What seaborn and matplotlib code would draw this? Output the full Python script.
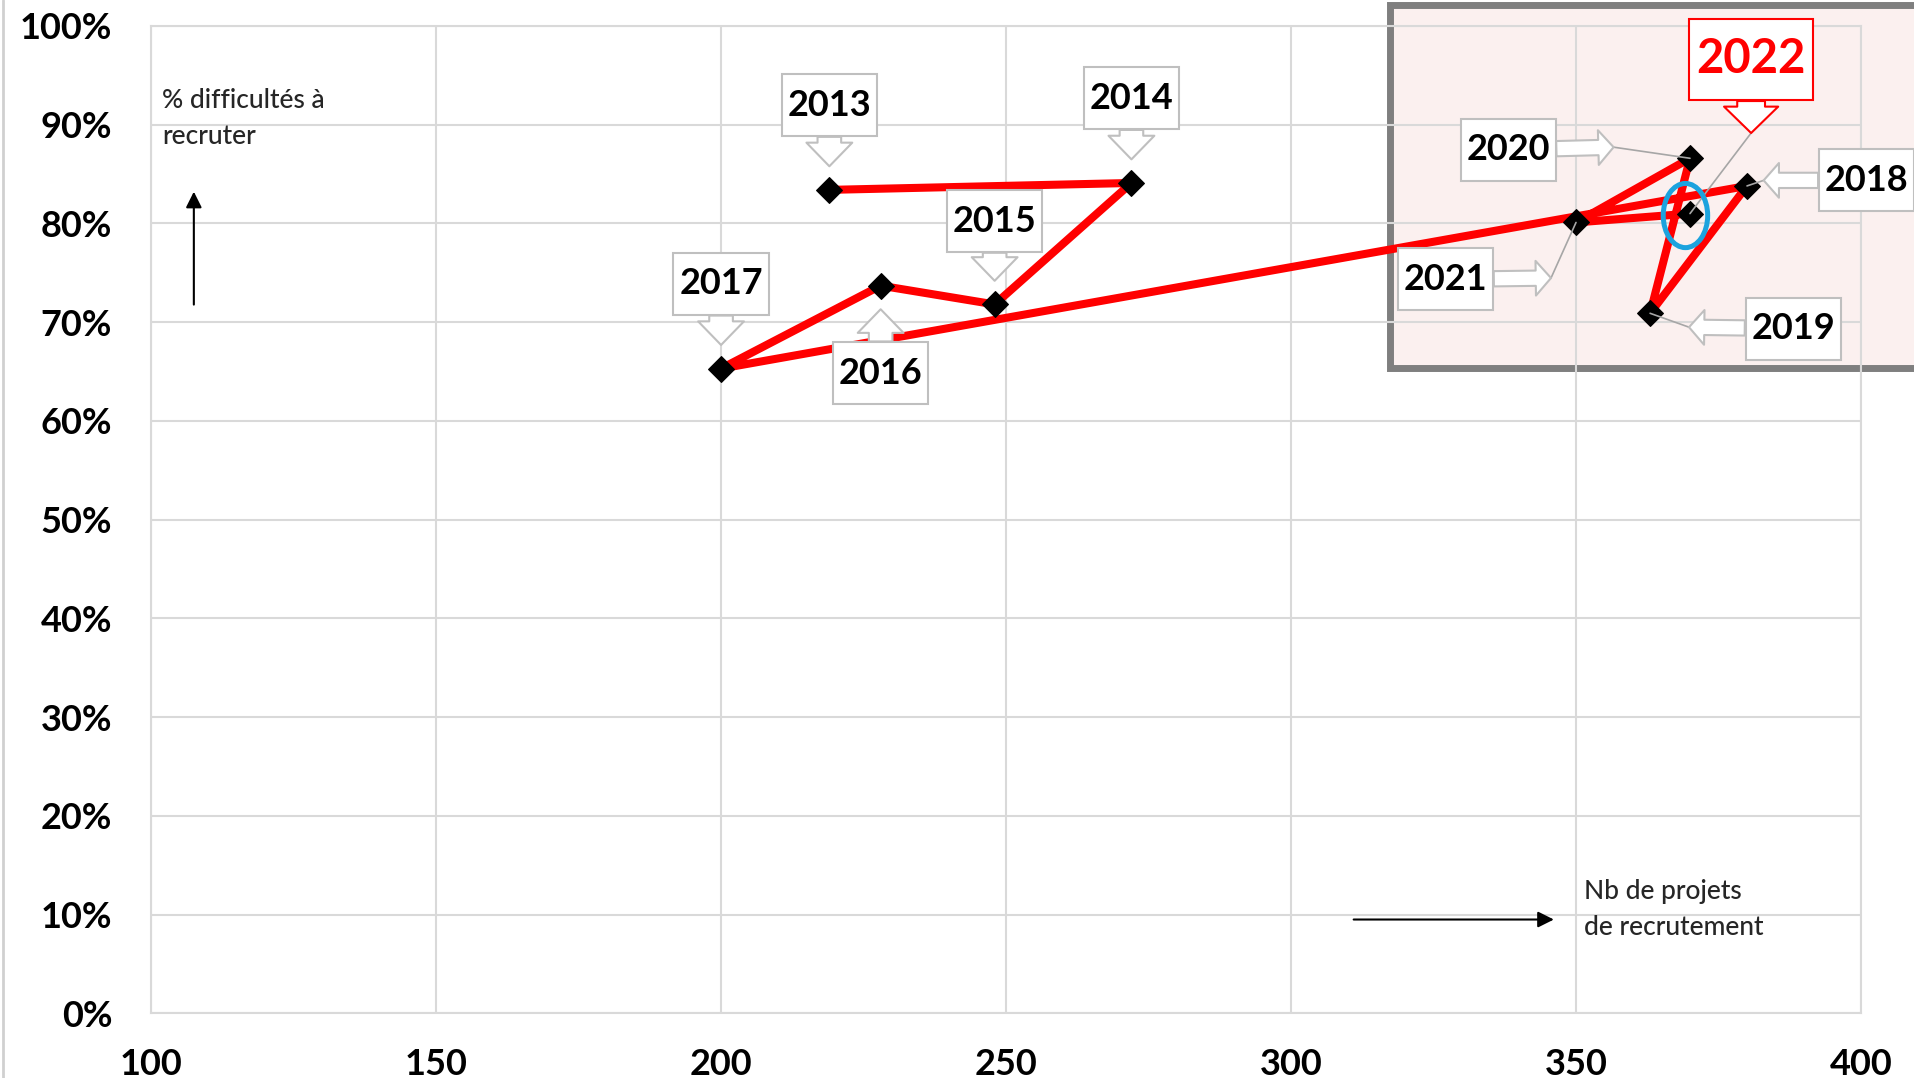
import numpy as np
import pandas as pd
import seaborn as sns
import matplotlib.pyplot as plt
import matplotlib.transforms as mtransforms
from matplotlib.patches import Rectangle, Ellipse
from matplotlib.lines import Line2D
from matplotlib.path import Path
from matplotlib.ticker import PercentFormatter, MultipleLocator

# Données
annees = ['2013', '2014', '2015', '2016', '2017', '2018', '2019', '2020', '2021', '2022']
nb_projets = [219, 272, 248, 228, 200, 380, 363, 370, 350, 370]
pct_difficultes = [0.834, 0.841, 0.718, 0.737, 0.653, 0.838, 0.709, 0.866, 0.801, 0.810]
ticks_x = [100, 150, 200, 250, 300, 350, 400]

df = pd.DataFrame({'annee': annees, 'projets': nb_projets, 'difficultes': pct_difficultes})

# Placement des étiquettes (décalages en points par rapport au point)
decal_texte = {'2013': (0, 61), '2014': (0, 61), '2015': (0, 60), '2016': (0, -63),
               '2017': (0, 61), '2018': (86, 4), '2019': (103, -11), '2020': (-131, 6),
               '2021': (-94, -41), '2022': (44, 111)}
decal_pointe = {'2013': (0, 17), '2014': (0, 17), '2015': (0, 17), '2016': (0, -17),
                '2017': (0, 17), '2018': (12, 4), '2019': (28, -10), '2020': (-55, 8),
                '2021': (-18, -40), '2022': (44, 58)}
avec_guide = ['2018', '2019', '2020', '2021', '2022']


def boite(x0, y0, width, height, mutation_size):
    # cadre rectangulaire, plus de marge en hauteur qu'en largeur
    px = 0.16 * mutation_size
    py = 0.40 * mutation_size
    x0, y0 = x0 - px, y0 - py
    x1, y1 = x0 + width + 2 * px, y0 + height + 2 * py
    return Path([(x0, y0), (x1, y0), (x1, y1), (x0, y1), (x0, y0)], closed=True)


sns.set_theme(style='whitegrid')
plt.rcParams['font.family'] = ['Lato', 'DejaVu Sans']

fig = plt.figure(figsize=(19.15, 10.78), dpi=100)
ax = fig.add_axes([0.0789, 0.06, 0.8929, 0.9159])
ax.set_facecolor('none')

# zone surlignée en haut à droite
fig.patches.append(Rectangle((0.726, 0.659), 0.3, 0.3366, transform=fig.transFigure,
                             facecolor='#FBF0EF', edgecolor='#7F7F7F', lw=5, zorder=-10))
fig.add_artist(Line2D([0.0015, 0.0015], [0, 1], transform=fig.transFigure, color='#D0D0D0', lw=2))

sns.lineplot(data=df, x='projets', y='difficultes', sort=False, estimator=None,
             color='#FF0000', lw=5.8, marker='D', markersize=13,
             markerfacecolor='black', markeredgecolor='black', ax=ax, zorder=3)

ax.set_xlim(100, 400)
ax.set_ylim(0, 1)
ax.set_xticks(ticks_x)
ax.yaxis.set_major_locator(MultipleLocator(0.1))
ax.yaxis.set_major_formatter(PercentFormatter(1, decimals=0))
ax.set_xlabel('')
ax.set_ylabel('')
ax.grid(True, color='#D9D9D9', lw=1.5)
for sp in ax.spines.values():
    sp.set_color('#D9D9D9')
    sp.set_linewidth(1.5)
ax.tick_params(axis='both', length=0, labelsize=26, labelcolor='black')
ax.tick_params(axis='y', pad=28)
ax.tick_params(axis='x', pad=25)
plt.setp(ax.get_xticklabels() + ax.get_yticklabels(), fontweight='bold')

# étiquettes des années
for an, x, y in zip(annees, nb_projets, pct_difficultes):
    tx, ty = decal_texte[an]
    px, py = decal_pointe[an]
    rouge = an == '2022'
    bord = '#FF0000' if rouge else '#BFBFBF'
    if rouge:
        fleche = 'simple,head_length=19,head_width=39,tail_width=20'
    elif px == 0:
        fleche = 'simple,head_length=17,head_width=33,tail_width=17'
    else:
        fleche = 'simple,head_length=11,head_width=25,tail_width=11'
    pointe = mtransforms.offset_copy(ax.transData, fig=fig, x=px, y=py, units='points')
    ax.annotate(an, xy=(x, y), xycoords=pointe, xytext=(tx - px, ty - py),
                textcoords='offset points', ha='center', va='center',
                fontsize=34 if rouge else 26, fontweight='bold',
                color='#FF0000' if rouge else 'black',
                bbox=dict(boxstyle=boite, fc='white', ec=bord, lw=1.5),
                arrowprops=dict(arrowstyle=fleche, mutation_scale=1, fc='white', ec=bord,
                                lw=1.5, shrinkA=0, shrinkB=0),
                zorder=5)
    if an in avec_guide:
        ax.annotate('', xy=(x, y), xytext=(px, py), textcoords='offset points',
                    arrowprops=dict(arrowstyle='-', color='#A6A6A6', lw=1.2,
                                    shrinkA=0, shrinkB=0), zorder=4)

# cercle autour de 2022
i22 = annees.index('2022')
ax.add_patch(Ellipse((nb_projets[i22] - 0.8, pct_difficultes[i22] - 0.002), width=7.8,
                     height=0.065, fill=False, ec='#1CA3DE', lw=3.6, zorder=6))

# titres d'axes avec flèches
ax.annotate('', xy=(107.5, 0.835), xytext=(107.5, 0.715),
            arrowprops=dict(arrowstyle='-|>', color='black', lw=1.5, mutation_scale=24))
ax.text(101.9, 0.906, '% difficultés à\nrecruter', fontsize=19, fontweight='medium',
        va='center', ha='left', linespacing=1.55)
ax.annotate('', xy=(346.6, 0.095), xytext=(310.5, 0.095),
            arrowprops=dict(arrowstyle='-|>', color='black', lw=1.5, mutation_scale=24))
ax.text(351.4, 0.1055, 'Nb de projets\nde recrutement', fontsize=19, fontweight='medium',
        va='center', ha='left', linespacing=1.55)

fig.savefig('out.png', dpi=100)
